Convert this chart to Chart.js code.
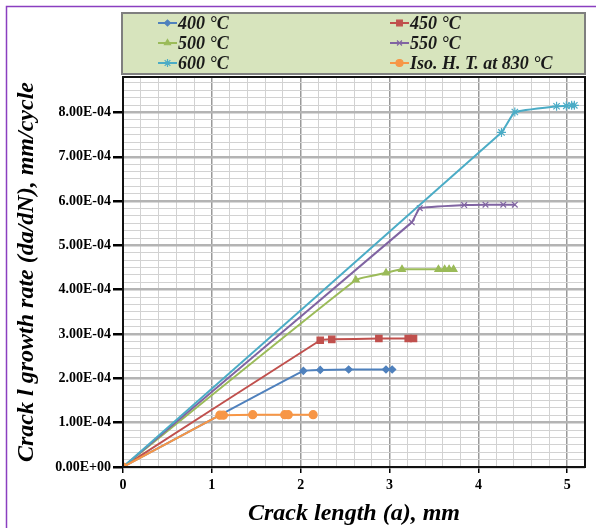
<!DOCTYPE html>
<html>
<head>
<meta charset="utf-8">
<script src="https://cdn.jsdelivr.net/npm/chart.js@4/dist/chart.umd.min.js"></script>
<style>
  body { margin: 0; background: #fff; }
  canvas { display: block; }
</style>
</head>
<body>
<canvas id="crack-chart" width="596" height="528"></canvas>
<script>
// Crack growth rate vs crack length

const seriesNames = ['400 °C', '450 °C', '500 °C', '550 °C', '600 °C', 'Iso. H. T. at 830 °C'];

const x400 = [0, 2.03, 2.22, 2.54, 2.96, 3.03];
const y400 = [0, 2.17e-4, 2.19e-4, 2.20e-4, 2.20e-4, 2.20e-4];

const x450 = [0, 2.22, 2.35, 2.88, 3.21, 3.27];
const y450 = [0, 2.86e-4, 2.88e-4, 2.90e-4, 2.90e-4, 2.90e-4];

const x500 = [0, 2.62, 2.96, 3.14, 3.55, 3.62, 3.67, 3.72];
const y500 = [0, 4.22e-4, 4.38e-4, 4.46e-4, 4.46e-4, 4.46e-4, 4.46e-4, 4.46e-4];

const x550 = [0, 3.25, 3.34, 3.84, 4.08, 4.28, 4.41];
const y550 = [0, 5.52e-4, 5.84e-4, 5.91e-4, 5.92e-4, 5.92e-4, 5.92e-4];

const x600 = [0, 4.26, 4.41, 4.88, 4.99, 5.05, 5.08];
const y600 = [0, 7.55e-4, 8.01e-4, 8.14e-4, 8.15e-4, 8.16e-4, 8.16e-4];

const xIso = [0, 1.09, 1.13, 1.46, 1.82, 1.86, 2.14];
const yIso = [0, 1.17e-4, 1.17e-4, 1.18e-4, 1.18e-4, 1.18e-4, 1.18e-4];

const xTickLabels = ['0', '1', '2', '3', '4', '5'];
const yTickLabels = ['0.00E+00', '1.00E-04', '2.00E-04', '3.00E-04', '4.00E-04',
                     '5.00E-04', '6.00E-04', '7.00E-04', '8.00E-04'];

const colors = ['#4F81BD', '#C0504D', '#9BBB59', '#8064A2', '#4BACC6', '#F79646'];
const markers = ['rectRot', 'rect', 'triangle', 'crossRot', 'star', 'circle'];
const markerSizes = [3.5, 4.5, 4, 4, 4.5, 4];

const FONT = '"Liberation Serif", "Times New Roman", serif';

function toPoints(xs, ys) {
  return xs.map((x, i) => ({ x: x, y: ys[i] }));
}

const allX = [x400, x450, x500, x550, x600, xIso];
const allY = [y400, y450, y500, y550, y600, yIso];

const datasets = seriesNames.map((name, i) => ({
  label: name,
  data: toPoints(allX[i], allY[i]),
  borderColor: colors[i],
  backgroundColor: colors[i],
  borderWidth: 2,
  pointStyle: markers[i],
  pointRadius: markerSizes[i],
  pointBorderWidth: 1.2,
  tension: 0.1,
  // last series on top, like the original
  order: seriesNames.length - i
}));

// light green legend box with two columns, drawn by hand
const legendBox = {
  id: 'legendBox',
  afterDraw(chart) {
    const ctx = chart.ctx;
    ctx.save();
    ctx.fillStyle = '#D7E4BD';
    ctx.fillRect(122, 13, 463, 61);
    ctx.strokeStyle = '#7f7f7f';
    ctx.lineWidth = 2;
    ctx.strokeRect(122, 13, 463, 61);

    const colX = [158, 390];
    const rowY = [23, 43, 63];
    ctx.font = 'italic bold 18px ' + FONT;
    ctx.textBaseline = 'middle';
    seriesNames.forEach((name, i) => {
      const x = colX[i % 2];
      const y = rowY[Math.floor(i / 2)];
      ctx.strokeStyle = colors[i];
      ctx.lineWidth = 2;
      ctx.beginPath();
      ctx.moveTo(x, y);
      ctx.lineTo(x + 19, y);
      ctx.stroke();
      if (Chart.helpers && Chart.helpers.drawPoint) {
        ctx.fillStyle = colors[i];
        ctx.lineWidth = 1.2;
        Chart.helpers.drawPoint(ctx, { pointStyle: markers[i], radius: markerSizes[i] - 0.5, rotation: 0, borderWidth: 1.2 }, x + 9.5, y);
      }
      ctx.fillStyle = '#1a1a1a';
      ctx.fillText(name, x + 20, y + 1);
    });
    ctx.restore();
  }
};

// plot frame and the purple outer border
const frames = {
  id: 'frames',
  afterDraw(chart) {
    const { left, top, right, bottom } = chart.chartArea;
    const ctx = chart.ctx;
    ctx.save();
    ctx.strokeStyle = '#111';
    ctx.lineWidth = 2;
    ctx.strokeRect(left, top, right - left, bottom - top);
    ctx.strokeStyle = '#8A3FC0';
    ctx.lineWidth = 1.5;
    ctx.beginPath();
    ctx.moveTo(6.5, 528);
    ctx.lineTo(6.5, 6.5);
    ctx.lineTo(596, 6.5);
    ctx.stroke();
    ctx.restore();
  }
};

new Chart(document.getElementById('crack-chart'), {
  type: 'line',
  data: { datasets },
  plugins: [legendBox, frames],
  options: {
    responsive: false,
    animation: false,
    layout: { padding: { top: 77, right: 11, left: 0, bottom: 0 } },
    plugins: { legend: { display: false }, tooltip: { enabled: false } },
    scales: {
      x: {
        type: 'linear',
        min: 0,
        max: 5.2,
        afterBuildTicks: s => {
          s.ticks = [];
          for (let i = 0; i <= 26; i++) s.ticks.push({ value: Math.round(i * 2) / 10 });
        },
        afterFit: s => { s.height = 61; },
        ticks: {
          autoSkip: false,
          maxRotation: 0,
          padding: 4,
          color: '#000',
          font: { family: FONT, size: 14, weight: 'bold' },
          callback: (v, i) => (i % 5 === 0 ? xTickLabels[i / 5] : '')
        },
        grid: {
          color: c => (c.index % 5 === 0 ? '#9a9a9a' : '#d2d2d2'),
          lineWidth: c => (c.index % 5 === 0 ? 1.5 : 1),
          tickColor: c => (c.index % 5 === 0 ? '#000' : 'rgba(0,0,0,0)'),
          tickLength: 6
        },
        border: { display: false },
        title: {
          display: true,
          text: 'Crack length (a), mm',
          color: '#000',
          font: { family: FONT, size: 24, style: 'italic', weight: 'bold' },
          padding: { top: 0, bottom: 0 }
        }
      },
      y: {
        type: 'linear',
        min: 0,
        max: 8.8e-4,
        afterBuildTicks: s => {
          s.ticks = [];
          for (let k = 0; k <= 52; k++) s.ticks.push({ value: (k / 6) * 1e-4 });
        },
        afterFit: s => { s.width = 123; },
        ticks: {
          autoSkip: false,
          padding: 2,
          color: '#000',
          font: { family: FONT, size: 14, weight: 'bold' },
          callback: (v, i) => (i % 6 === 0 ? yTickLabels[i / 6] : '')
        },
        grid: {
          color: c => (c.index % 6 === 0 ? '#b4b4b4' : '#d2d2d2'),
          lineWidth: c => (c.index % 6 === 0 ? 2.5 : 1),
          tickColor: c => (c.index % 6 === 0 ? '#000' : 'rgba(0,0,0,0)'),
          tickLength: 10
        },
        border: { display: false },
        title: {
          display: true,
          text: 'Crack l growth rate (da/dN), mm/cycle',
          color: '#000',
          font: { family: FONT, size: 24, style: 'italic', weight: 'bold' },
          padding: { top: 12, bottom: 0 }
        }
      }
    }
  }
});
</script>
</body>
</html>
